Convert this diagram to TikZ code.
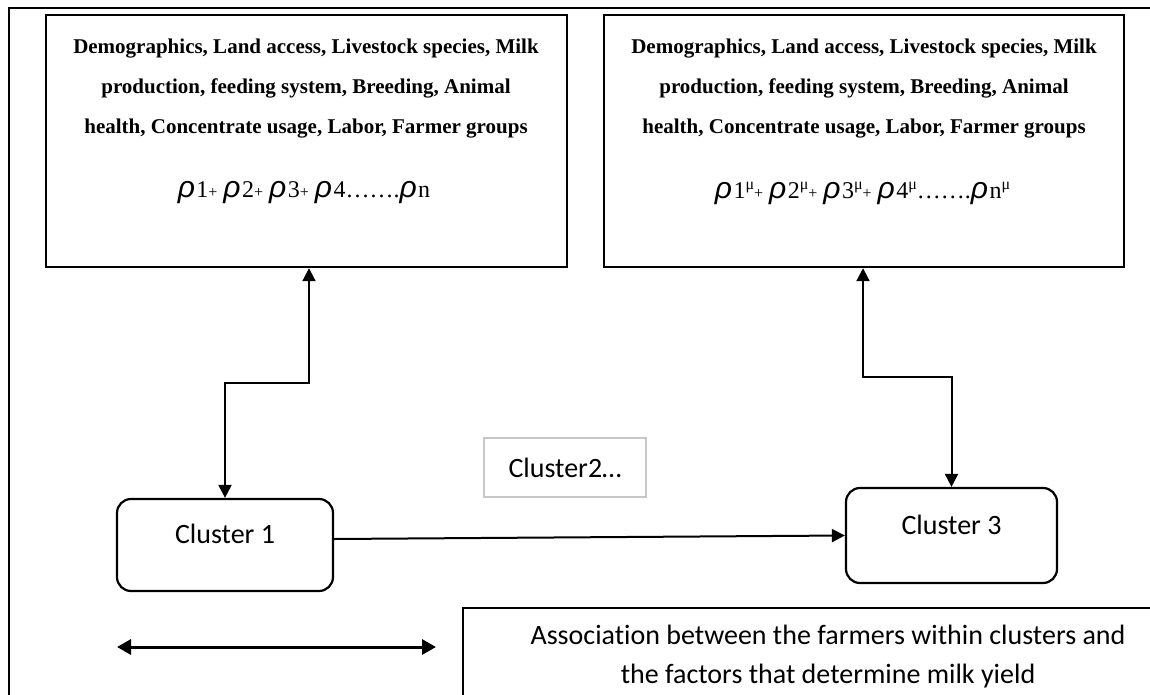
\documentclass[tikz,border=0pt]{standalone}
\usepackage{fontspec}
\setmainfont{Liberation Serif}
\newfontfamily\calib[Ligatures=NoCommon]{Carlito}
\newfontfamily\rhofont{Liberation Sans}
\usetikzlibrary{arrows.meta,calc}
\newcommand\Rh{{\rhofont\itshape\fontsize{30}{30}\selectfont ρ}\kern1.5pt}
\newcommand\Sn[1]{{\fontsize{24}{24}\selectfont #1}}
\newcommand\Pl{{\fontsize{16}{16}\selectfont +}}
\newcommand\Mu{\raisebox{9pt}{\fontsize{16}{16}\selectfont μ}}
\tikzset{
  frame/.style={draw, line width=1.6pt, inner sep=0pt, anchor=north west},
  bigbox/.style={draw, line width=2.4pt, inner sep=0pt, minimum width=521pt, minimum height=252pt},
  factors/.style={font=\bfseries\fontsize{21}{40}\selectfont, align=center, inner sep=0pt},
  rholine/.style={font=\fontsize{24}{24}\selectfont, inner sep=0pt, anchor=base},
  clbox/.style={draw, line width=2.2pt, rounded corners=14pt, inner sep=0pt},
  cltext/.style={font=\calib\fontsize{28}{28}\selectfont, inner sep=0pt},
  graybox/.style={draw=black!22, line width=2pt, inner sep=0pt, minimum width=162pt, minimum height=59pt, font=\calib\fontsize{28}{28}\selectfont},
  legtext/.style={font=\calib\fontsize{28}{39}\selectfont, align=center, inner sep=0pt},
  arr/.style={line width=2pt, -{Triangle[length=13pt,width=13pt]}},
  biarr/.style={line width=2pt, {Triangle[length=13pt,width=13pt]}-{Triangle[length=13pt,width=13pt]}},
  legarr/.style={line width=3pt, {Triangle[length=14pt,width=15pt]}-{Triangle[length=14pt,width=15pt]}}
}
\begin{document}
\begin{tikzpicture}[x=1pt,y=-1pt]
\useasboundingbox (0,0) rectangle (1150,695);
\clip (0,0) rectangle (1150,695);
\fill[white] (0,0) rectangle (1150,695);
% outer frame
\node[frame, minimum width=1170pt, minimum height=720pt] (outer) at (8,7) {};
% factor boxes
\node[bigbox] (b1) at (306.5,141) {};
\node[factors] (t1) at (306,89) {Demographics, Land access, Livestock species, Milk\\production, feeding system, Breeding, Animal\\health, Concentrate usage, Labor, Farmer groups};
\node[rholine] (r1) at (304,197) {\Rh\Sn{1}\Pl\ \Rh\Sn{2}\Pl\ \Rh\Sn{3}\Pl\ \Rh\Sn{4}\Sn{…….}\Rh\Sn{n}};
\node[bigbox, minimum width=520pt] (b2) at (864,141) {};
\node[factors] (t2) at (864,89) {Demographics, Land access, Livestock species, Milk\\production, feeding system, Breeding, Animal\\health, Concentrate usage, Labor, Farmer groups};
\node[rholine] (r2) at (862.5,198) {\Rh\Sn{1}\Mu\Pl\ \Rh\Sn{2}\Mu\Pl\ \Rh\Sn{3}\Mu\Pl\ \Rh\Sn{4}\Mu\Sn{…….}\Rh\Sn{n}\Mu};
% clusters
\node[clbox, minimum width=216pt, minimum height=92pt] (c1) at (225,545) {};
\node[cltext] (c1t) at (225,534) {Cluster 1};
\node[graybox] (c2) at (565,467.5) {Cluster2…};
\node[clbox, minimum width=211pt, minimum height=95pt] (c3) at (951.5,535.5) {};
\node[cltext] (c3t) at (951.5,525) {Cluster 3};
% connectors
\coordinate (k1) at (309,383);
\coordinate (k2) at (225,383);
\draw[biarr] (c1.north) -- (k2) -- (k1) -- (k1 |- b1.south);
\coordinate (k3) at (863,377);
\coordinate (k4) at (951.5,377);
\draw[biarr] (c3.north) -- (k4) -- (k3) -- (k3 |- b2.south);
\draw[arr] ([yshift=6pt]c1.east) -- (c3.west);
% legend
\coordinate (la) at (117,647);
\coordinate (lb) at (436,647);
\draw[legarr] (la) -- (lb);
\node[frame, line width=2pt, minimum width=720pt, minimum height=120pt] (lg) at (462,607) {};
\node[legtext] (lgt) at (828,657) {Association between the farmers within clusters and\\the factors that determine milk yield};
\end{tikzpicture}
\end{document}
